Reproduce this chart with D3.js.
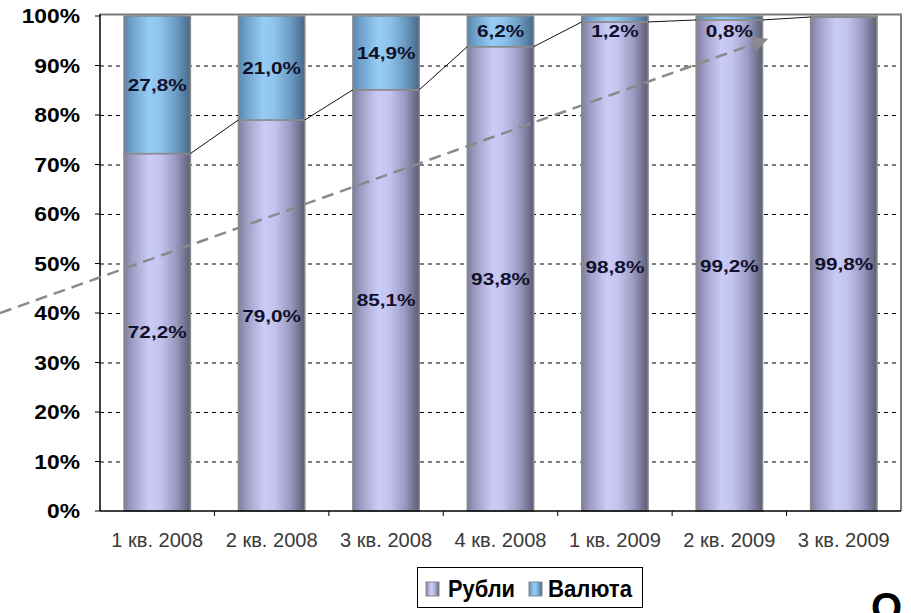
<!DOCTYPE html>
<html>
<head>
<meta charset="utf-8">
<script src="https://cdn.jsdelivr.net/npm/d3@7"></script>
<style>
  html, body { margin: 0; padding: 0; background: #fff; }
  svg { display: block; }
</style>
</head>
<body>
<svg id="chart" width="911" height="613"></svg>
<script>
// Quarters on the x axis
const categories = ["1 кв. 2008", "2 кв. 2008", "3 кв. 2008", "4 кв. 2008", "1 кв. 2009", "2 кв. 2009", "3 кв. 2009"];
// Share of rouble and currency, %
const rubles = [72.2, 79.0, 85.1, 93.8, 98.8, 99.2, 99.8];
const currency = [27.8, 21.0, 14.9, 6.2, 1.2, 0.8, 0.2];
// Which currency labels are shown
const currencyLabelShown = [true, true, true, true, true, true, false];
const seriesNames = ["Рубли", "Валюта"];
const yTicks = [0, 10, 20, 30, 40, 50, 60, 70, 80, 90, 100];
// Trend arrow, ends given in category-index units and percent
const trendFrom = [-0.874, 40.0];
const trendTo = [5.84, 95.4];

const svg = d3.select("#chart");
const plotL = 100, plotR = 901, plotT = 16, plotB = 511;
const FONT = "Liberation Sans, Arial, sans-serif";

const x = d3.scaleBand().domain(categories).range([plotL, plotR]).paddingInner(0.42).paddingOuter(0.21);
const y = d3.scaleLinear().domain([0, 100]).range([plotB, plotT]);
const xi = d3.scaleLinear().domain([0, categories.length]).range([plotL, plotR]);

const fmt = v => d3.format(".1f")(v).replace(".", ",") + "%";

// Gradients giving the bars a rounded look
const defs = svg.append("defs");
function grad(id, stops) {
  const g = defs.append("linearGradient").attr("id", id).attr("x1", "0%").attr("x2", "100%").attr("y1", "0%").attr("y2", "0%");
  stops.forEach(([o, c]) => g.append("stop").attr("offset", o).attr("stop-color", c));
}
grad("gRub", [["0%", "#7e7e9e"], ["12%", "#9d9dc4"], ["38%", "#cbcbf8"], ["55%", "#c3c3ef"], ["78%", "#9a9ac2"], ["100%", "#5c5c74"]]);
grad("gVal", [["0%", "#5a86ae"], ["12%", "#6fa2cc"], ["38%", "#96cdf6"], ["55%", "#8cc2ec"], ["78%", "#6d9cc4"], ["100%", "#46688a"]]);

// Gridlines
svg.append("g").selectAll("line").data(yTicks.filter(t => t > 0 && t < 100)).join("line")
  .attr("x1", plotL).attr("x2", plotR)
  .attr("y1", d => y(d) + 0.5).attr("y2", d => y(d) + 0.5)
  .attr("stroke", "#000").attr("stroke-width", 1).attr("stroke-dasharray", "4,4");

// Plot frame (top and right)
svg.append("path")
  .attr("d", `M${plotL},${y(100) - 1.5}H${plotR}V${plotB}`)
  .attr("fill", "none").attr("stroke", "#7a7a7a").attr("stroke-width", 2);

// Bars
const bars = svg.append("g");
categories.forEach((c, i) => {
  const bx = x(c), bw = x.bandwidth();
  bars.append("rect")
    .attr("x", bx).attr("width", bw)
    .attr("y", y(rubles[i])).attr("height", y(0) - y(rubles[i]))
    .attr("fill", "url(#gRub)").attr("stroke", "#8a8a8a").attr("stroke-width", 1.5);
  bars.append("rect")
    .attr("x", bx).attr("width", bw)
    .attr("y", y(rubles[i] + currency[i])).attr("height", y(rubles[i]) - y(rubles[i] + currency[i]))
    .attr("fill", "url(#gVal)").attr("stroke", "#8a8a8a").attr("stroke-width", 1.5);
});

// Series lines joining the rouble tops
const sl = svg.append("g");
for (let i = 0; i < categories.length - 1; i++) {
  sl.append("line")
    .attr("x1", x(categories[i]) + x.bandwidth()).attr("y1", y(rubles[i]))
    .attr("x2", x(categories[i + 1])).attr("y2", y(rubles[i + 1]))
    .attr("stroke", "#111").attr("stroke-width", 1);
}

// Axes
svg.append("line").attr("x1", plotL).attr("x2", plotL).attr("y1", y(100) - 2).attr("y2", plotB)
  .attr("stroke", "#000").attr("stroke-width", 1.5);
svg.append("line").attr("x1", plotL).attr("x2", plotR).attr("y1", plotB).attr("y2", plotB)
  .attr("stroke", "#000").attr("stroke-width", 1.5);
svg.append("g").selectAll("line").data(d3.range(1, categories.length)).join("line")
  .attr("x1", d => xi(d)).attr("x2", d => xi(d))
  .attr("y1", plotB).attr("y2", plotB + 5).attr("stroke", "#000");
svg.append("g").selectAll("line").data(yTicks).join("line")
  .attr("x1", plotL - 5).attr("x2", plotL).attr("y1", d => y(d)).attr("y2", d => y(d)).attr("stroke", "#000");

// Y labels (bold, slightly widened)
svg.append("g").selectAll("text").data(yTicks).join("text")
  .attr("transform", d => `translate(80,${y(d)}) scale(1.17,1)`)
  .attr("dy", "0.36em")
  .attr("text-anchor", "end")
  .attr("font-family", FONT).attr("font-weight", "bold").attr("font-size", 19.5)
  .text(d => d + "%");

// X labels (tall, narrow)
svg.append("g").selectAll("text").data(categories).join("text")
  .attr("x", d => x(d) + x.bandwidth() / 2 - 46).attr("y", 547)
  .attr("textLength", 92).attr("lengthAdjust", "spacingAndGlyphs")
  .attr("font-family", FONT).attr("font-size", 20).attr("fill", "#3a3a3a")
  .text(d => d);

// Value labels
const lab = svg.append("g")
  .attr("font-family", FONT).attr("font-weight", "bold").attr("font-size", 17)
  .attr("fill", "#10102a").attr("text-anchor", "middle");
function valueLabel(cx, cy, txt) {
  lab.append("text").attr("transform", `translate(${cx},${cy}) scale(1.22,1)`).attr("dy", "0.36em").text(txt);
}
categories.forEach((c, i) => {
  const cx = x(c) + x.bandwidth() / 2;
  valueLabel(cx, y(rubles[i] / 2), fmt(rubles[i]));
  if (currencyLabelShown[i]) {
    valueLabel(cx, Math.max(y(rubles[i] + currency[i] / 2), 31), fmt(currency[i]));
  }
});

// Dashed trend arrow
const ax1 = xi(trendFrom[0]), ay1 = y(trendFrom[1]);
const ax2 = xi(trendTo[0]), ay2 = y(trendTo[1]);
const ang = Math.atan2(ay2 - ay1, ax2 - ax1);
const headLen = 15, headW = 7;
const bx2 = ax2 - headLen * Math.cos(ang), by2 = ay2 - headLen * Math.sin(ang);
svg.append("line")
  .attr("x1", ax1).attr("y1", ay1).attr("x2", bx2).attr("y2", by2)
  .attr("stroke", "#8a8a8a").attr("stroke-width", 2.5).attr("stroke-dasharray", "12,7");
svg.append("path")
  .attr("d", `M${ax2},${ay2}L${bx2 - headW * Math.sin(ang)},${by2 + headW * Math.cos(ang)}L${bx2 + headW * Math.sin(ang)},${by2 - headW * Math.cos(ang)}Z`)
  .attr("fill", "#8a8a8a");

// Legend
const lg = svg.append("g");
lg.append("rect").attr("x", 417.5).attr("y", 567.5).attr("width", 225).attr("height", 40)
  .attr("fill", "#fff").attr("stroke", "#000");
const items = [
  { name: seriesNames[0], fill: "url(#gRub)", sx: 426, tx: 448, tw: 67 },
  { name: seriesNames[1], fill: "url(#gVal)", sx: 529, tx: 548, tw: 84 }
];
items.forEach(it => {
  lg.append("rect").attr("x", it.sx).attr("y", 582).attr("width", 13).attr("height", 14)
    .attr("fill", it.fill).attr("stroke", "#888").attr("stroke-width", 1);
  lg.append("text").attr("x", it.tx).attr("y", 597)
    .attr("textLength", it.tw).attr("lengthAdjust", "spacingAndGlyphs")
    .attr("font-family", FONT).attr("font-weight", "bold").attr("font-size", 24)
    .text(it.name);
});

// Partly visible heading letter below the chart
svg.append("text").attr("x", 871).attr("y", 621)
  .attr("font-family", FONT).attr("font-weight", "bold").attr("font-size", 40).attr("fill", "#000")
  .text("О");
</script>
</body>
</html>
